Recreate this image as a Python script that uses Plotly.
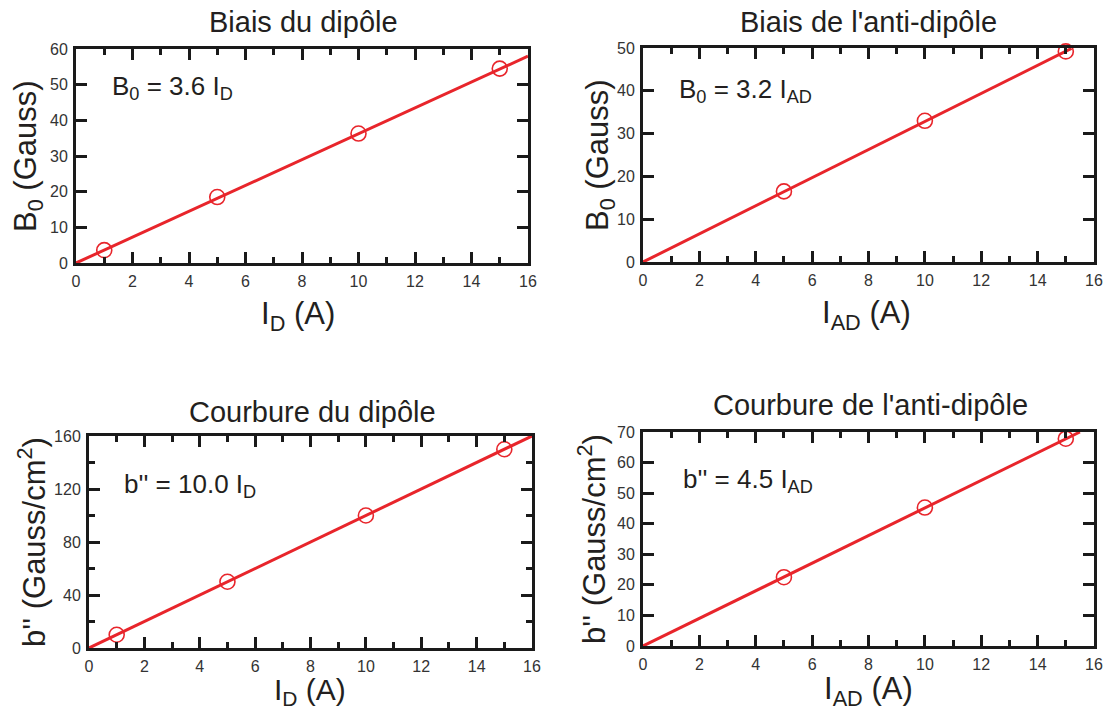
import plotly.graph_objects as go

W, H = 1114, 711

# ---- data ----
id_current = [1, 5, 10, 15]
b0_dipole = [3.6, 18.5, 36.3, 54.5]
fit_id_x = [0, 16]
fit_id_b0 = [0, 58]

iad_current = [5, 10, 15]
b0_antidipole = [16.5, 33.0, 49.2]
fit_iad_x = [0, 15.2]
fit_iad_b0 = [0, 49.9]

bpp_dipole = [10, 50, 100, 150]
fit_id_bpp = [0, 160]

bpp_antidipole = [22.5, 45.3, 67.8]
fit_iad_x2 = [0, 15.5]
fit_iad_bpp = [0, 70]

x_ticks = [0, 2, 4, 6, 8, 10, 12, 14, 16]

titles = ["Biais du dipôle", "Biais de l'anti-dipôle",
          "Courbure du dipôle", "Courbure de l'anti-dipôle"]
equations = ["B<sub>0</sub> = 3.6 I<sub>D</sub>", "B<sub>0</sub> = 3.2 I<sub>AD</sub>",
             "b'' = 10.0 I<sub>D</sub>", "b'' = 4.5 I<sub>AD</sub>"]
xtitles = ["I<sub>D</sub> (A)", "I<sub>AD</sub> (A)", "I<sub>D</sub> (A)", "I<sub>AD</sub> (A)"]
ytitles = ["B<sub>0</sub> (Gauss)", "B<sub>0</sub> (Gauss)",
           "b'' (Gauss/cm<sup>2</sup>)", "b'' (Gauss/cm<sup>2</sup>)"]
yranges = [[0, 60], [0, 50], [0, 160], [0, 70]]
ydticks = [10, 10, 40, 10]
yminor = [None, None, 20, None]

# ---- layout in window pixels ----
boxes = [  # left, right, top, bottom
    (76, 528, 49, 263),
    (643, 1094, 48, 262),
    (89, 532, 436, 648),
    (643, 1094, 432, 646),
]
title_pos = [(303, 22), (868, 22), (312, 412), (870, 405)]
xtitle_pos = [(298, 316), (866, 315), (310, 691), (868, 691)]
xtitle_size = [31, 31, 30, 31]
ytitle_pos = [(28, 156), (600, 155), (32, 542), (592, 539)]
eq_pos = [(110, 87), (677, 90), (122, 485), (681, 480)]

RED = "#e8252b"
FONT = "Liberation Sans, Arial, sans-serif"
TXT = "#231f20"

panels = [
    (id_current, b0_dipole, fit_id_x, fit_id_b0),
    (iad_current, b0_antidipole, fit_iad_x, fit_iad_b0),
    (id_current, bpp_dipole, fit_id_x, fit_id_bpp),
    (iad_current, bpp_antidipole, fit_iad_x2, fit_iad_bpp),
]

fig = go.Figure()
layout = dict(
    width=W, height=H,
    margin=dict(l=0, r=0, t=0, b=0, autoexpand=False),
    paper_bgcolor="white", plot_bgcolor="white",
    showlegend=False,
    font=dict(family=FONT, color=TXT),
)
annotations = []

def px(x):
    return x / W

def py(y):
    return 1 - y / H

for i, ((xs, ys, fx, fy), (l, r, t, b)) in enumerate(zip(panels, boxes)):
    n = "" if i == 0 else str(i + 1)
    xa, ya = "x" + n, "y" + n
    fig.add_trace(go.Scatter(x=fx, y=fy, mode="lines", xaxis=xa, yaxis=ya,
                             line=dict(color=RED, width=3), cliponaxis=False))
    fig.add_trace(go.Scatter(x=xs, y=ys, mode="markers", xaxis=xa, yaxis=ya,
                             marker=dict(symbol="circle-open", size=15, color=RED,
                                         line=dict(width=1.6, color=RED)),
                             cliponaxis=False))
    axcommon = dict(showline=True, linecolor="#1a1a1a", linewidth=3, mirror="allticks",
                    ticks="inside", ticklen=11, tickwidth=3, tickcolor="#1a1a1a",
                    showgrid=False, zeroline=False, automargin=False,
                    tickfont=dict(family=FONT, size=16, color="#333333"))
    xaxis = dict(axcommon, domain=[px(l), px(r)], range=[0, 16], tickvals=x_ticks,
                 anchor=ya, ticklabelstandoff=2,
                 minor=dict(ticks="inside", ticklen=6, tickwidth=3, tickcolor="#1a1a1a",
                            dtick=1, tick0=0, showgrid=False))
    yaxis = dict(axcommon, domain=[py(b), py(t)], range=yranges[i], dtick=ydticks[i],
                 tick0=0, anchor=xa, ticklabelstandoff=2)
    if yminor[i]:
        yaxis["minor"] = dict(ticks="inside", ticklen=6, tickwidth=3, tickcolor="#1a1a1a",
                              dtick=yminor[i], tick0=0, showgrid=False)
    layout["xaxis" + n] = xaxis
    layout["yaxis" + n] = yaxis

    tx, ty = title_pos[i]
    annotations.append(dict(x=px(tx), y=py(ty), xref="paper", yref="paper",
                            text=titles[i], showarrow=False, xanchor="center",
                            yanchor="middle", font=dict(size=29, color=TXT)))
    xx, xy = xtitle_pos[i]
    annotations.append(dict(x=px(xx), y=py(xy), xref="paper", yref="paper",
                            text=xtitles[i], showarrow=False, xanchor="center",
                            yanchor="middle", font=dict(size=xtitle_size[i], color=TXT)))
    yx, yy = ytitle_pos[i]
    annotations.append(dict(x=px(yx), y=py(yy), xref="paper", yref="paper",
                            text=ytitles[i], showarrow=False, xanchor="center",
                            yanchor="middle", textangle=-90,
                            font=dict(size=31, color=TXT)))
    ex, ey = eq_pos[i]
    annotations.append(dict(x=px(ex), y=py(ey), xref="paper", yref="paper",
                            text=equations[i], showarrow=False, xanchor="left",
                            yanchor="middle", font=dict(size=26, color=TXT)))

layout["annotations"] = annotations
fig.update_layout(**layout)
# remove the browser's default 8px body margin so the figure fills the window exactly
fig.write_html("out.html", config={"displayModeBar": False},
               post_script="document.body.style.margin='0';")
